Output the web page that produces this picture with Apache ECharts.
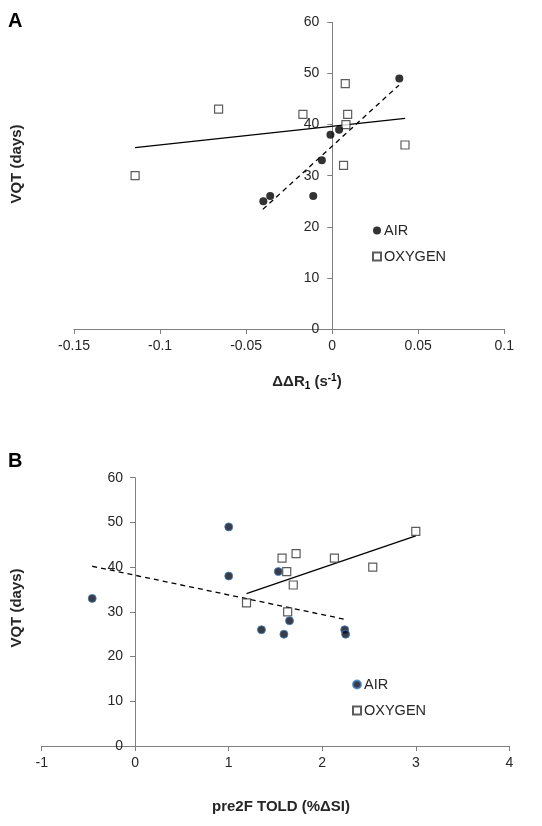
<!DOCTYPE html>
<html>
<head>
<meta charset="utf-8">
<script src="https://cdn.jsdelivr.net/npm/echarts@6/dist/echarts.min.js"></script>
<style>html,body{margin:0;padding:0;background:#fff}#c{width:542px;height:826px}</style>
</head>
<body>
<div id="c"></div>
<script>
// Panel A data: x = ΔΔR1 (s^-1), y = VQT (days)
const airA_x = [0.039, 0.004, -0.001, -0.006, -0.011, -0.040, -0.036];
const airA_y = [49, 39, 38, 33, 26, 25, 26];
const oxyA_x = [-0.1145, -0.066, -0.017, 0.0076, 0.009, 0.008, 0.0066, 0.0423];
const oxyA_y = [30, 43, 42, 48, 42, 40, 32, 36];
const trendAirA_x = [-0.0403, 0.0388];
const trendAirA_y = [23.4, 47.7];
const trendOxyA_x = [-0.1145, 0.0424];
const trendOxyA_y = [35.5, 41.2];
const xTicksA = [-0.15, 0.1, 0.05]; // min, max, interval
const yTicks = [0, 60, 10];

// Panel B data: x = pre2F TOLD (%ΔSI), y = VQT (days)
const airB_x = [1.0, 1.0, 1.53, -0.46, 1.65, 1.35, 1.59, 2.24, 2.25];
const airB_y = [49, 38, 39, 33, 28, 26, 25, 26, 25];
const oxyB_x = [3.0, 1.57, 1.72, 2.13, 2.54, 1.62, 1.69, 1.19, 1.63];
const oxyB_y = [48, 42, 43, 42, 40, 39, 36, 32, 30];
const trendAirB_x = [-0.46, 2.26];
const trendAirB_y = [40.2, 28.25];
const trendOxyB_x = [1.19, 3.0];
const trendOxyB_y = [34.1, 47.0];
const xTicksB = [-1, 4, 1];

const zip = (a, b) => a.map((v, i) => [v, b[i]]);
const FONT = '"Liberation Sans", Arial, sans-serif';
const axisColor = '#7f7f7f';
const txtColor = '#262626';

function xAxisDef(idx, t, margin, fmt) {
  return {
    type: 'value', gridIndex: idx, min: t[0], max: t[1], interval: t[2],
    splitLine: {show: false},
    axisLine: {onZero: false, lineStyle: {color: axisColor, width: 1}},
    axisTick: {show: true, length: 5, lineStyle: {color: axisColor}},
    axisLabel: {margin: margin, color: txtColor, fontSize: 14, fontFamily: FONT, formatter: fmt}
  };
}
function yAxisDef(idx, margin, offset) {
  return {
    type: 'value', gridIndex: idx, min: yTicks[0], max: yTicks[1], interval: yTicks[2],
    position: 'left', offset: offset,
    splitLine: {show: false},
    axisLine: {show: true, onZero: false, lineStyle: {color: axisColor, width: 1}},
    axisTick: {show: true, length: 5, lineStyle: {color: axisColor}},
    axisLabel: {margin: margin, color: txtColor, fontSize: 14, fontFamily: FONT}
  };
}

const circleA = {color: '#000'};
const circleB = {color: '#0b0b18', borderColor: '#3c7fc0', borderWidth: 1};
const square = {color: '#fff', borderColor: '#333', borderWidth: 1.2};

const chart = echarts.init(document.getElementById('c'), null, {renderer: 'canvas'});
chart.setOption({
  animation: false,
  backgroundColor: '#fff',
  grid: [
    {left: 74, right: 37.7, top: 22.3, bottom: 497},
    {left: 41.7, right: 32.7, top: 477.7, bottom: 80}
  ],
  xAxis: [
    xAxisDef(0, xTicksA, 10, v => String(Math.round(v * 100) / 100)),
    xAxisDef(1, xTicksB, 10)
  ],
  yAxis: [yAxisDef(0, 13, -258.3), yAxisDef(1, 12, -93.3)],
  legend: [
    {
      data: ['AIR', 'OXYGEN'], orient: 'vertical', left: 367, top: 218,
      itemWidth: 8, itemHeight: 8, itemGap: 11,
      textStyle: {fontSize: 14.5, color: txtColor, fontFamily: FONT, padding: [0, 0, 0, -2]},
      selectedMode: false
    },
    {
      data: ['AIR_B', 'OXYGEN_B'], orient: 'vertical', left: 347, top: 672,
      itemWidth: 8, itemHeight: 8, itemGap: 11,
      formatter: n => n.replace('_B', ''),
      textStyle: {fontSize: 14.5, color: txtColor, fontFamily: FONT, padding: [0, 0, 0, -2]},
      selectedMode: false
    }
  ],
  series: [
    {name: 'AIR', type: 'scatter', xAxisIndex: 0, yAxisIndex: 0, symbol: 'circle', symbolSize: 8,
     itemStyle: circleA, data: zip(airA_x, airA_y), z: 5},
    {name: 'OXYGEN', type: 'scatter', xAxisIndex: 0, yAxisIndex: 0, symbol: 'rect', symbolSize: 8,
     itemStyle: square, data: zip(oxyA_x, oxyA_y), z: 4},
    {type: 'line', xAxisIndex: 0, yAxisIndex: 0, symbol: 'none', silent: true,
     lineStyle: {color: '#000', width: 1.3, type: [5, 4]}, data: zip(trendAirA_x, trendAirA_y), z: 3},
    {type: 'line', xAxisIndex: 0, yAxisIndex: 0, symbol: 'none', silent: true,
     lineStyle: {color: '#000', width: 1.3}, data: zip(trendOxyA_x, trendOxyA_y), z: 3},

    {name: 'AIR_B', type: 'scatter', xAxisIndex: 1, yAxisIndex: 1, symbol: 'circle', symbolSize: 8,
     itemStyle: circleB, data: zip(airB_x, airB_y), z: 5},
    {name: 'OXYGEN_B', type: 'scatter', xAxisIndex: 1, yAxisIndex: 1, symbol: 'rect', symbolSize: 8,
     itemStyle: square, data: zip(oxyB_x, oxyB_y), z: 4},
    {type: 'line', xAxisIndex: 1, yAxisIndex: 1, symbol: 'none', silent: true,
     lineStyle: {color: '#000', width: 1.3, type: [5, 4]}, data: zip(trendAirB_x, trendAirB_y), z: 3},
    {type: 'line', xAxisIndex: 1, yAxisIndex: 1, symbol: 'none', silent: true,
     lineStyle: {color: '#000', width: 1.3}, data: zip(trendOxyB_x, trendOxyB_y), z: 3}
  ],
  graphic: [
    {type: 'text', left: 8, top: 11, style: {text: 'A', font: 'bold 20px ' + FONT, fill: '#000'}},
    {type: 'text', left: 8, top: 451, style: {text: 'B', font: 'bold 20px ' + FONT, fill: '#000'}},
    {type: 'text', x: 17, y: 164, rotation: Math.PI / 2,
     style: {text: 'VQT (days)', font: 'bold 15px ' + FONT, fill: txtColor, align: 'center', verticalAlign: 'middle'}},
    {type: 'text', x: 17, y: 608, rotation: Math.PI / 2,
     style: {text: 'VQT (days)', font: 'bold 15px ' + FONT, fill: txtColor, align: 'center', verticalAlign: 'middle'}},
    {type: 'text', x: 307, y: 382,
     style: {
       text: '{b|ΔΔR}{s|1}{b| (s}{p|-1}{b|)}', align: 'center', verticalAlign: 'middle',
       rich: {
         b: {font: 'bold 15px ' + FONT, fill: txtColor, color: txtColor},
         s: {font: 'bold 10px ' + FONT, color: txtColor, padding: [8, 0, 0, 0]},
         p: {font: 'bold 10px ' + FONT, color: txtColor, padding: [0, 0, 8, 0]}
       }
     }},
    {type: 'text', x: 281, y: 807,
     style: {text: 'pre2F TOLD (%ΔSI)', font: 'bold 15px ' + FONT, fill: txtColor, align: 'center', verticalAlign: 'middle'}}
  ]
});
</script>
</body>
</html>
